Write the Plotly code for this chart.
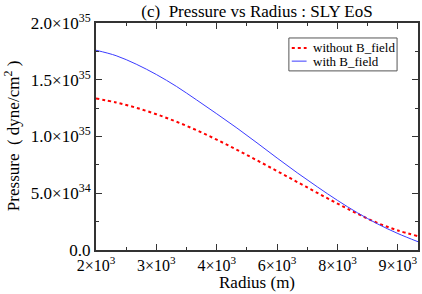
import plotly.graph_objects as go

# Data (radius in m, pressure in dyne/cm^2)
radius = [2000, 2500, 3000, 3500, 4000, 4500, 5000, 5500, 6000,
          6500, 7000, 7500, 8000, 8500, 9000, 9500, 10000]
p_without = [1.335e35, 1.300e35, 1.253e35, 1.196e35, 1.130e35, 1.055e35, 0.972e35, 0.883e35, 0.790e35,
             0.695e35, 0.599e35, 0.503e35, 0.409e35, 0.319e35, 0.237e35, 0.172e35, 0.122e35]
p_with = [1.760e35, 1.712e35, 1.637e35, 1.546e35, 1.441e35, 1.322e35, 1.200e35, 1.075e35, 0.944e35,
          0.810e35, 0.680e35, 0.556e35, 0.437e35, 0.327e35, 0.229e35, 0.145e35, 0.073e35]
series_names = ["without B_field", "with B_field"]

x_tickvals = [2000, 3500, 5000, 6500, 8000, 9500]
x_ticktext = ["2×10<sup>3</sup>", "3×10<sup>3</sup>", "4×10<sup>3</sup>",
              "6×10<sup>3</sup>", "8×10<sup>3</sup>", "9×10<sup>3</sup>"]
y_tickvals = [0, 5e34, 1e35, 1.5e35, 2e35]
y_ticktext = ["0.0", "5.0×10<sup>34</sup>", "1.0×10<sup>35</sup>",
              "1.5×10<sup>35</sup>", "2.0×10<sup>35</sup>"]

FONT = "Liberation Serif"
RED = "red"
BLUE = "#3b3bff"

fig = go.Figure()
fig.add_trace(go.Scatter(x=radius, y=p_without, mode="lines", name=series_names[0], showlegend=False,
                         line=dict(color=RED, width=2, dash="dot", shape="spline", smoothing=1)))
fig.add_trace(go.Scatter(x=radius, y=p_with, mode="lines", name=series_names[1], showlegend=False,
                         line=dict(color=BLUE, width=1, shape="spline", smoothing=1)))

axis_common = dict(showline=True, linecolor="#333333", linewidth=2, mirror="ticks",
                   ticks="inside", ticklen=6, tickwidth=1, tickcolor="#333333",
                   showgrid=False, zeroline=False)

fig.update_xaxes(range=[2000, 10000], tickmode="array", tickvals=x_tickvals, ticktext=x_ticktext,
                 minor=dict(ticks="inside", ticklen=3, tickcolor="#333333", dtick=750, tick0=2000),
                 tickfont=dict(family=FONT, size=16, color="black"),
                 **axis_common)
fig.update_yaxes(range=[0, 2e35], tickmode="array", tickvals=y_tickvals, ticktext=y_ticktext,
                 minor=dict(ticks="inside", ticklen=3, tickcolor="#333333", dtick=2.5e34, tick0=0),
                 tickfont=dict(family=FONT, size=17, color="black"),
                 **axis_common)

fig.add_annotation(text="Radius (m)", xref="paper", yref="paper", x=0.5, y=-0.143,
                   xanchor="center", yanchor="middle", showarrow=False,
                   font=dict(family=FONT, size=17, color="black"))
fig.add_annotation(text="Pressure  ( dyne/cm<sup>2</sup> )", textangle=-90,
                   xref="paper", yref="paper", x=-0.262, y=0.5, xanchor="center", yanchor="middle",
                   showarrow=False, font=dict(family=FONT, size=17, color="black"))

# Legend box (drawn to match the reference's compact legend)
fig.add_shape(type="rect", xref="paper", yref="paper", x0=0.599, x1=0.935, y0=0.789, y1=0.934,
              line=dict(color="#555555", width=1), fillcolor="white", layer="above")
leg_rows = [(0.890, RED, 2, "dot"), (0.832, BLUE, 1, "solid")]
for name, (yy, col, w, dash) in zip(series_names, leg_rows):
    fig.add_shape(type="line", xref="paper", yref="paper", x0=0.608, x1=0.654, y0=yy, y1=yy,
                  line=dict(color=col, width=w, dash=dash), layer="above")
    fig.add_annotation(text=name, xref="paper", yref="paper", x=0.667, y=yy,
                       xanchor="left", yanchor="middle", showarrow=False,
                       font=dict(family=FONT, size=13, color="black"))

fig.update_layout(
    width=422, height=294,
    margin=dict(l=96, r=2, t=23, b=44),
    paper_bgcolor="white", plot_bgcolor="white",
    title=dict(text="(c)  Pressure vs Radius : SLY EoS", x=0.5, xref="paper", y=0.962, yanchor="middle",
               font=dict(family=FONT, size=17, color="black")),
    showlegend=False,
)

fig.write_html("out.html", config={"displayModeBar": False},
               post_script="document.body.style.margin='0';")
